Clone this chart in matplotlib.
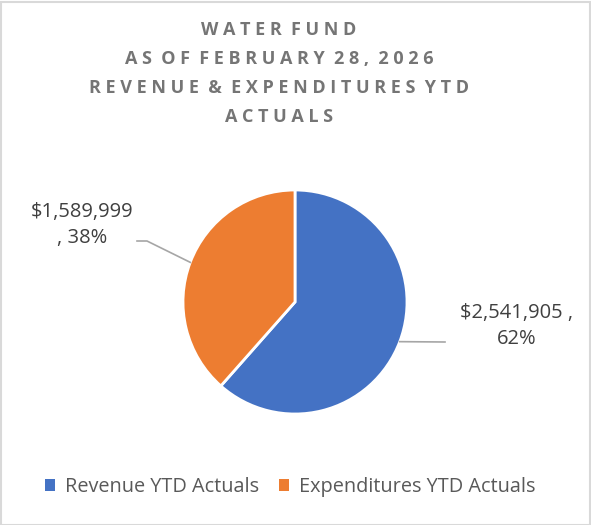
import numpy as np
import matplotlib.pyplot as plt
from matplotlib.patches import Rectangle

labels = ['Revenue YTD Actuals', 'Expenditures YTD Actuals']
values = [2541905, 1589999]
colors = ['#4472C4', '#ED7D31']
title_lines = ['WATER FUND', 'AS OF FEBRUARY 28, 2026',
               'REVENUE & EXPENDITURES YTD', 'ACTUALS']

W, H = 591, 525
fig = plt.figure(figsize=(W / 100, H / 100), dpi=100)
ax = fig.add_axes([0, 0, 1, 1])

# chart border
fig.patches.append(Rectangle((0.5 / W, 0.5 / H), 1 - 2 / W, 1 - 2 / H, transform=fig.transFigure,
                             fill=False, edgecolor='#D9D9D9', linewidth=1.5))

def spaced(s):
    return '  '.join(' '.join(w) for w in s.split(' '))

for i, line in enumerate(title_lines):
    ax.text(279, H - 30 - i * 29, spaced(line), ha='center', va='center',
            fontsize=13, fontweight='bold', color='#757575', family=['Open Sans', 'DejaVu Sans'])

cx, cy, r = 295, H - 302, 112
wedges, _ = ax.pie(values, colors=colors, startangle=90, counterclock=False,
                   center=(cx, cy), radius=r, frame=True,
                   wedgeprops=dict(edgecolor='white', linewidth=2))
ax.set_xlim(0, W)
ax.set_ylim(0, H)
ax.set_aspect('equal')
ax.axis('off')

total = sum(values)
label_pos = [(517, H - 326), (82, H - 225)]
texts = ['${:,} ,\n{:.0f}%', '${:,}\n, {:.0f}%']
elbows = [(445, H - 342), (137, H - 241)]
knees = [(445, H - 342), (147, H - 241)]
for w, v, pos, fmt, el, kn in zip(wedges, values, label_pos, texts, elbows, knees):
    ang = np.deg2rad((w.theta1 + w.theta2) / 2)
    px, py = cx + r * np.cos(ang), cy + r * np.sin(ang)
    ax.plot([px, kn[0], el[0]], [py, kn[1], el[1]], color='#A6A6A6', linewidth=1.2)
    ax.text(pos[0], pos[1], fmt.format(v, 100 * v / total), ha='center', va='center',
            fontsize=14.5, color='#404040', family=['Open Sans', 'DejaVu Sans'], linespacing=1.45)

leg = ax.legend(wedges, labels, loc='center', bbox_to_anchor=((290) / W, (H - 487) / H),
                bbox_transform=fig.transFigure, ncol=2, frameon=False, handlelength=0.5,
                handleheight=0.5, handletextpad=0.5, columnspacing=1.0,
                prop={'family': ['Open Sans', 'DejaVu Sans'], 'size': 14.3})
for t in leg.get_texts():
    t.set_color('#595959')
for h in leg.legend_handles:
    h.set_edgecolor('none')

fig.savefig('out.png', dpi=100)
